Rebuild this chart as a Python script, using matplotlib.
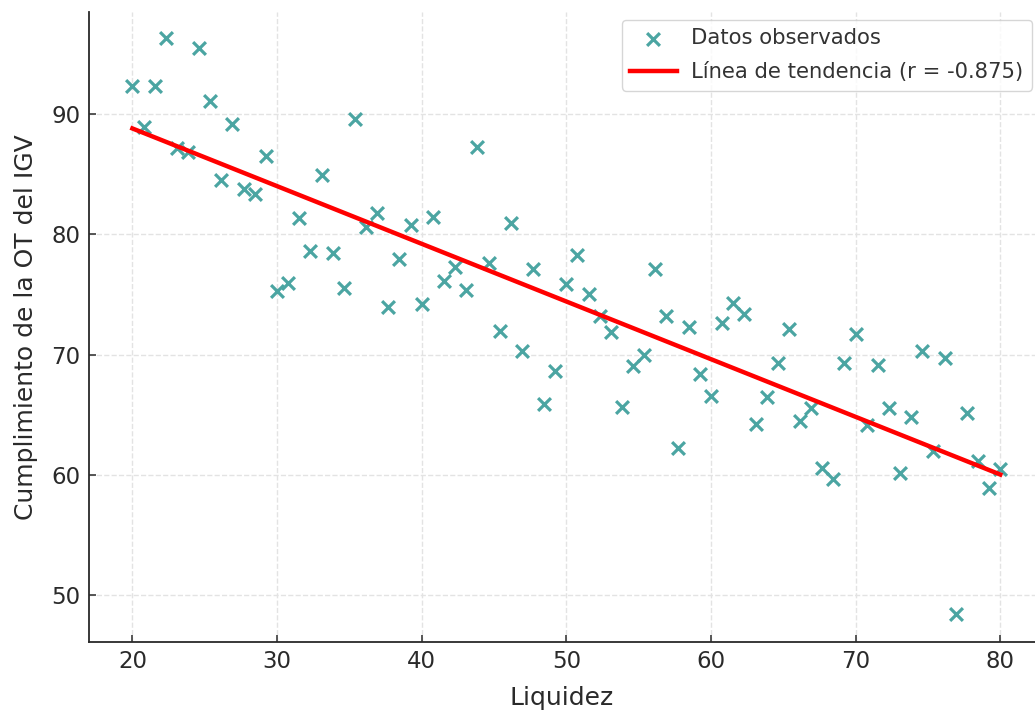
import matplotlib
matplotlib.use("Agg")
import matplotlib.pyplot as plt
import numpy as np

# valores
liquidez = [20.00, 20.77, 21.54, 22.31, 23.08, 23.85, 24.62, 25.38, 26.15, 26.92,
            27.69, 28.46, 29.23, 30.00, 30.77, 31.54, 32.31, 33.08, 33.85, 34.62,
            35.38, 36.15, 36.92, 37.69, 38.46, 39.23, 40.00, 40.77, 41.54, 42.31,
            43.08, 43.85, 44.62, 45.38, 46.15, 46.92, 47.69, 48.46, 49.23, 50.00,
            50.77, 51.54, 52.31, 53.08, 53.85, 54.62, 55.38, 56.15, 56.92, 57.69,
            58.46, 59.23, 60.00, 60.77, 61.54, 62.31, 63.08, 63.85, 64.62, 65.38,
            66.15, 66.92, 67.69, 68.46, 69.23, 70.00, 70.77, 71.54, 72.31, 73.08,
            73.85, 74.62, 75.38, 76.15, 76.92, 77.69, 78.46, 79.23, 80.00]
cumplimiento = [92.36, 88.90, 92.36, 96.36, 87.20, 86.82, 95.52, 91.09, 84.49, 89.18,
                83.77, 83.33, 86.51, 75.31, 75.92, 81.33, 78.61, 84.93, 78.47, 75.56,
                89.57, 80.63, 81.80, 73.98, 77.97, 80.80, 74.18, 81.41, 76.11, 77.30,
                75.34, 87.24, 77.61, 71.96, 80.97, 70.32, 77.11, 65.88, 68.65, 75.87,
                78.28, 75.01, 73.20, 71.90, 65.66, 69.04, 69.96, 77.11, 73.20, 62.25,
                72.31, 68.35, 66.55, 72.60, 74.31, 73.37, 64.19, 66.49, 69.32, 72.10,
                64.47, 65.57, 60.53, 59.66, 69.32, 71.71, 64.13, 69.13, 65.57, 60.12,
                64.78, 70.29, 62.00, 69.68, 48.41, 65.16, 61.14, 58.87, 60.47]
r_label = "-0.875"

x = np.array(liquidez)
y = np.array(cumplimiento)
slope, intercept = np.polyfit(x, y, 1)
x_line = np.array([x.min(), x.max()])

fig = plt.figure(figsize=(10.35, 7.15), dpi=100)
ax = fig.add_axes([89 / 1035, (715 - 642) / 715, (1035 - 89) / 1035, (642 - 12) / 715])

ax.scatter(x, y, marker='x', s=85, linewidths=2.3, color='#4ba5a2',
           label='Datos observados', zorder=3)
ax.plot(x_line, slope * x_line + intercept, color='red', linewidth=3.2,
        label=f'Línea de tendencia (r = {r_label})', zorder=4)

ax.set_xlim(17, 82.4)
ax.set_ylim(46.09, 98.5)
ax.set_xticks([20, 30, 40, 50, 60, 70, 80])
ax.set_yticks([50, 60, 70, 80, 90])

ax.grid(True, linestyle='--', color='#e3e3e3', linewidth=1)
ax.set_axisbelow(True)
for side in ['top', 'right']:
    ax.spines[side].set_visible(False)
for side in ['left', 'bottom']:
    ax.spines[side].set_color('#2a2a2a')
    ax.spines[side].set_linewidth(1.3)

ax.tick_params(labelsize=16.5, direction='in', length=5, width=1.1,
               colors='#2a2a2a', pad=6)
ax.set_xlabel('Liquidez', fontsize=18, color='#2a2a2a', labelpad=9)
ax.set_ylabel('Cumplimiento de la OT del IGV', fontsize=18, color='#2a2a2a',
              labelpad=10)

leg = ax.legend(loc='upper right', fontsize=15.2, frameon=True, borderpad=0.4,
                handlelength=2.2, handletextpad=0.7, labelspacing=0.65,
                borderaxespad=0,
                bbox_to_anchor=(1032 / 1035, 1 - 20 / 715),
                bbox_transform=fig.transFigure)
for t in leg.get_texts():
    t.set_color('#333333')
leg.get_frame().set_edgecolor('#cccccc')

fig.savefig('out.png', dpi=100)
